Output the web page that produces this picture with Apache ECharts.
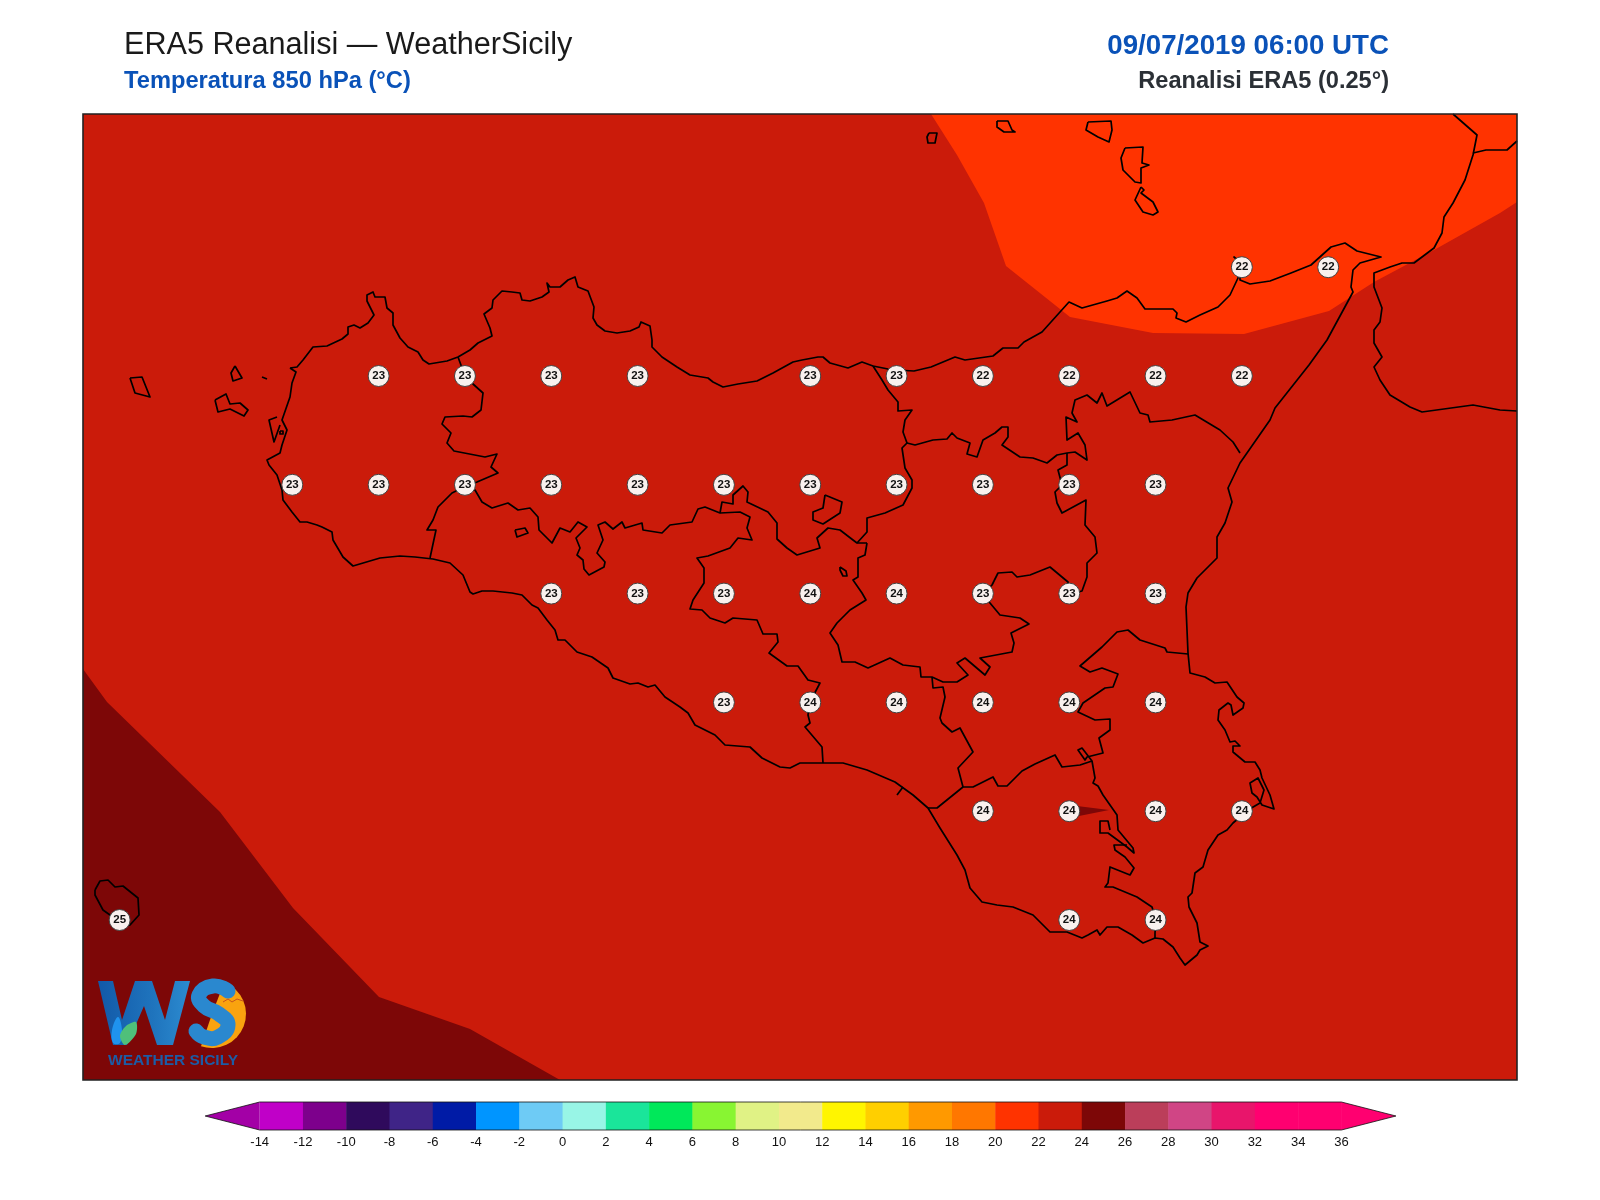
<!DOCTYPE html>
<html lang="it">
<head>
	<meta charset="UTF-8">
	<title>ERA5 Reanalisi</title>
	<script src="https://cdn.jsdelivr.net/npm/echarts@6/dist/echarts.min.js"></script>
	<style>
		html, body{
			width: 100%;
			height: 100%;
			padding: 0;
			margin: 0;
			background-color: #fff;
		}
		#main{
			width: 1600px;
			height: 1200px;
		}
	</style>
</head>
<body>
	<div id="main"></div>
</body>
<script>
	// temperature read at the 0.25 degree grid points
	let lat3825 = [[15.25, 22], [15.5, 22]];
	let lat3800 = [[12.75, 23], [13, 23], [13.25, 23], [13.5, 23], [14, 23], [14.25, 23], [14.5, 22], [14.75, 22], [15, 22], [15.25, 22]];
	let lat3775 = [[12.5, 23], [12.75, 23], [13, 23], [13.25, 23], [13.5, 23], [13.75, 23], [14, 23], [14.25, 23], [14.5, 23], [14.75, 23], [15, 23]];
	let lat3750 = [[13.25, 23], [13.5, 23], [13.75, 23], [14, 24], [14.25, 24], [14.5, 23], [14.75, 23], [15, 23]];
	let lat3725 = [[13.75, 23], [14, 24], [14.25, 24], [14.5, 24], [14.75, 24], [15, 24]];
	let lat3700 = [[14.5, 24], [14.75, 24], [15, 24], [15.25, 24]];
	let lat3675 = [[12, 25], [14.75, 24], [15, 24]];

	// colour scale
	let levels = [-14, -12, -10, -8, -6, -4, -2, 0, 2, 4, 6, 8, 10, 12, 14, 16, 18, 20, 22, 24, 26, 28, 30, 32, 34, 36];
	let levelColors = ['#c000c8', '#7d008c', '#2f0a5c', '#3f2487', '#001ba6', '#0095ff', '#6ecbf5', '#98f5e6', '#1ae59a', '#00e85a', '#88f532', '#e0f285', '#f2ea8c', '#fff500', '#ffcf00', '#ff9900', '#ff7700', '#ff3300', '#cb1b0a', '#7d0707', '#bb3e5a', '#d04585', '#e8156b', '#ff0070', '#ff0070'];
	let lowColor = '#a300a6';
	let highColor = '#ff0070';

	let sicilyCoast = [290,368, 297,367, 303,360, 313,347, 327,346, 342,339, 348,334, 348,327, 354,325, 360,328, 368,323, 374,315, 367,301, 367,295, 373,292, 375,297, 385,297, 387,308, 393,313, 393,325, 400,338, 408,347, 418,352, 423,360, 429,364, 447,361, 458,357, 470,350, 478,343, 492,336, 490,328, 484,314, 492,308, 493,300, 502,291, 512,292, 520,293, 522,300, 530,301, 542,297, 549,292, 547,283, 550,287, 560,287, 568,280, 575,277, 578,287, 588,291, 594,307, 593,318, 597,325, 605,331, 617,333, 630,331, 639,327, 641,322, 650,326, 652,340, 652,347, 662,357, 677,367, 690,375, 708,378, 713,382, 723,387, 738,384, 757,381, 773,373, 793,362, 802,360, 818,357, 823,357, 830,363, 848,368, 862,362, 873,366, 888,369, 896,370, 914,371, 931,367, 955,357, 965,360, 993,356, 1003,348, 1018,348, 1024,342, 1042,332, 1069,302, 1082,308, 1107,301, 1117,298, 1127,291, 1137,298, 1145,309, 1173,309, 1177,313, 1176,318, 1186,322, 1200,315, 1218,307, 1230,295, 1238,278, 1240,262, 1234,257, 1240,262, 1240,280, 1250,284, 1270,281, 1291,273, 1311,265, 1331,247, 1345,243, 1357,251, 1381,257, 1360,263, 1353,270, 1351,287, 1353,292, 1327,340, 1309,365, 1275,408, 1270,420, 1240,463, 1228,488, 1232,502, 1225,523, 1217,537, 1217,558, 1197,578, 1188,593, 1186,607, 1188,653, 1190,673, 1205,677, 1215,683, 1227,682, 1237,697, 1244,703, 1243,708, 1233,715, 1231,705, 1228,703, 1219,710, 1218,720, 1225,730, 1230,742, 1235,741, 1240,746, 1233,746, 1233,752, 1245,762, 1255,762, 1260,770, 1262,778, 1270,795, 1274,809, 1262,805, 1257,797, 1252,793, 1250,783, 1258,778, 1264,790, 1260,803, 1248,810, 1233,823, 1227,830, 1218,835, 1208,850, 1203,867, 1195,873, 1192,893, 1188,897, 1189,907, 1197,923, 1200,942, 1208,946, 1200,950, 1197,955, 1185,965, 1180,958, 1173,947, 1163,939, 1155,938, 1143,943, 1132,935, 1118,927, 1107,927, 1100,935, 1097,930, 1088,935, 1082,938, 1067,932, 1050,932, 1033,915, 1013,907, 997,905, 982,902, 970,888, 965,870, 957,855, 940,828, 928,808, 913,795, 895,782, 867,770, 843,763, 823,763, 800,763, 790,768, 780,767, 762,758, 750,747, 725,745, 715,735, 695,725, 688,713, 680,707, 665,697, 655,685, 648,687, 638,683, 630,684, 613,678, 608,668, 592,657, 577,652, 565,640, 558,640, 555,630, 547,620, 538,608, 532,605, 522,595, 512,593, 493,591, 482,591, 473,594, 470,592, 463,575, 450,563, 433,559, 415,557, 400,556, 380,558, 353,566, 343,557, 333,540, 332,532, 322,527, 317,525, 307,522, 300,522, 292,512, 283,500, 282,490, 277,475, 269,465, 267,460, 280,453, 282,445, 287,430, 282,420, 290,397, 292,383, 296,372, 290,368];
	let trapaniLine = [458,357, 465,376, 473,384, 483,393, 481,410, 472,417, 463,416, 445,417, 442,424, 451,433, 447,443, 454,451, 485,457, 497,454, 491,467, 498,473, 477,482, 464,487, 452,493, 438,507, 433,520, 427,530, 436,530, 430,558];
	let agrigentoLine = [464,485, 475,490, 482,502, 492,508, 508,503, 518,510, 530,508, 538,517, 539,530, 552,543, 560,528, 570,532, 578,522, 587,527, 576,538, 580,548, 577,555, 583,560, 584,569, 589,575, 604,567, 605,562, 597,553, 603,540, 598,525, 605,522, 613,529, 622,522, 625,528, 642,523, 643,530, 662,533, 670,525, 692,522, 698,509, 705,507, 720,513, 740,512, 750,517, 747,528, 752,540, 738,538, 730,548, 708,556, 697,558, 704,568, 704,583, 693,600, 690,609, 702,610, 710,618, 725,623, 733,618, 757,620, 763,634, 777,634, 778,642, 769,653, 787,666, 798,666, 808,680, 820,683, 810,702, 808,715, 810,723, 805,727, 822,747, 823,763];
	let palermoLine = [720,513, 722,502, 733,504, 733,495, 743,486, 748,492, 747,502, 768,512, 777,523, 777,539, 787,548, 797,555, 820,548, 817,538, 828,528, 840,530, 853,540, 857,543, 867,543];
	let ennaWestLine = [873,366, 882,380, 888,390, 898,402, 898,411, 912,410, 905,420, 903,432, 907,443, 902,448, 905,468, 912,480, 912,488, 903,505, 885,513, 867,518, 867,532, 857,543];
	let ennaSouthLine = [867,543, 865,555, 858,558, 858,577, 853,580, 862,593, 866,600, 850,610, 837,623, 830,633, 838,645, 842,662, 855,662, 868,668, 890,658, 903,665, 920,667, 921,677, 932,677, 943,682, 957,682, 968,675, 957,663, 965,658, 985,675, 990,667, 980,658, 1012,652, 1014,643, 1011,633, 1029,624, 1020,618, 1000,615, 990,603, 983,594, 992,585, 998,573, 1012,572, 1017,577, 1030,575, 1050,567, 1068,582, 1070,594, 1082,591, 1087,577, 1087,563, 1097,553, 1095,537, 1085,525, 1086,500, 1062,513, 1057,503, 1055,492, 1062,485, 1058,470, 1067,465, 1067,453];
	let ennaNorthLine = [907,443, 915,445, 933,440, 947,439, 952,433, 957,438, 970,443, 967,454, 977,457, 983,440, 995,433, 1002,427, 1008,427, 1008,437, 1002,445, 1020,457, 1033,458, 1047,463, 1057,455, 1067,453, 1075,452, 1087,460, 1085,445, 1078,433, 1067,440, 1066,417, 1077,422, 1072,413, 1075,400, 1087,395, 1097,403, 1102,393, 1107,406, 1130,392, 1140,413, 1148,415, 1150,422, 1172,420, 1195,415, 1220,430, 1233,442, 1240,453];
	let cataniaLine = [1188,654, 1167,652, 1165,648, 1140,640, 1128,630, 1117,632, 1102,647, 1080,666, 1090,672, 1102,668, 1118,674, 1113,687, 1105,688, 1083,703, 1078,712, 1095,720, 1110,719, 1110,730, 1099,738, 1103,753, 1087,757, 1085,760, 1078,750, 1082,748, 1092,761, 1095,778, 1093,783, 1098,786, 1103,795, 1117,815, 1118,830, 1133,848, 1134,853, 1127,847, 1108,833, 1100,833, 1100,821, 1108,821, 1110,830];
	let siracusaLine = [1127,845, 1114,845, 1115,850, 1125,857, 1134,868, 1130,875, 1110,867, 1108,883, 1105,887, 1113,887, 1137,897, 1152,907, 1156,920, 1155,933, 1155,938];
	let ragusaLine = [928,808, 937,808, 963,787, 973,787, 993,777, 998,786, 1007,786, 1022,771, 1035,764, 1055,755, 1062,767, 1080,765, 1092,761];
	let caltaLine = [963,787, 958,768, 973,752, 960,728, 952,732, 942,723, 940,718, 945,697, 943,687, 933,688, 932,677];
	let gelaSpur = [903,787, 897,795];
	let madonieLoop = [825,495, 842,502, 840,513, 823,524, 813,520, 813,512, 823,508, 825,495];
	let pergusaLoop = [840,567, 846,571, 847,576, 843,576, 840,570, 840,567];
	let enclaveLoop = [515,530, 525,528, 528,533, 517,537, 515,530];
	let salineLine = [277,417, 269,420, 274,442, 280,425];
	let salineLoop = [280,431, 283,431, 283,434, 280,434, 280,431];

	let calabriaCoast = [1453,114, 1477,135, 1473,155, 1465,180, 1453,203, 1444,217, 1442,233, 1434,248, 1414,263, 1402,263, 1390,267, 1374,273, 1374,287, 1382,308, 1380,322, 1374,330, 1374,343, 1382,357, 1374,367, 1380,380, 1390,395, 1410,407, 1422,412, 1473,405, 1500,410, 1517,411];
	let calabriaBorder = [1473,153, 1486,150, 1507,150, 1517,141];

	let alicudi = [929,133, 937,133, 935,143, 928,143, 927,137, 929,133];
	let filicudi = [997,121, 1008,121, 1012,130, 1015,132, 1004,132, 997,127, 997,121];
	let salina = [1088,122, 1111,121, 1112,130, 1109,142, 1098,137, 1086,130, 1088,122];
	let lipari = [1125,148, 1143,147, 1142,163, 1149,165, 1141,168, 1141,183, 1135,182, 1123,170, 1121,158, 1125,148];
	let vulcano = [1141,187, 1144,190, 1141,193, 1153,202, 1158,212, 1153,215, 1143,212, 1135,200, 1141,187];
	let marettimo = [130,378, 142,377, 150,397, 135,393, 130,378];
	let levanzo = [235,366, 242,378, 233,381, 231,373, 235,366];
	let favignana = [215,400, 226,394, 230,404, 240,403, 248,410, 244,416, 230,409, 218,412, 215,400];
	let formiche = [262,377, 267,379];
	let linosa = [95,890, 100,881, 108,880, 115,887, 123,886, 138,898, 139,915, 130,925, 118,927, 110,915, 103,910, 95,895, 95,890];

	let outlines = [sicilyCoast, trapaniLine, agrigentoLine, palermoLine, ennaWestLine, ennaSouthLine, ennaNorthLine, cataniaLine, siracusaLine, ragusaLine, caltaLine, gelaSpur, madonieLoop, pergusaLoop, enclaveLoop, salineLine, salineLoop, calabriaCoast, calabriaBorder, alicudi, filicudi, salina, lipari, vulcano, marettimo, levanzo, favignana, formiche, linosa];

	// filled contour bands, digitised the same way
	let band20to22 = [931,114, 957,155, 984,203, 1006,266, 1070,317, 1153,333, 1244,334, 1329,311, 1374,282, 1434,250, 1500,213, 1517,202, 1517,114];
	let band24to26 = [83,669, 107,702, 220,812, 293,908, 379,997, 470,1029, 560,1080, 83,1080];
	let band24sliver = [1069,805, 1109,810, 1069,818];
	let fills = [[band20to22, levelColors[17]], [band24to26, levelColors[19]], [band24sliver, levelColors[19]]];

	// plate to lon/lat: 0.25 degrees = 86.33 x 108.8 units
	function toLon(u){
		return 12.5 + (u - 292.3) / 345.3;
	}
	function toLat(v){
		return 38 - (v - 376) / 435.2;
	}
	function toGeo(flat){
		let out = [];
		for(let i = 0; i < flat.length; i += 2){
			out.push([toLon(flat[i]), toLat(flat[i + 1])]);
		}
		return out;
	}

	let lonMin = toLon(83), lonMax = toLon(1517);
	let latMin = toLat(1080), latMax = toLat(114);

	function withLat(row, lat){
		return row.map(o => [o[0], lat, o[1]]);
	}
	let points = [].concat(
		withLat(lat3825, 38.25), withLat(lat3800, 38), withLat(lat3775, 37.75),
		withLat(lat3750, 37.5), withLat(lat3725, 37.25), withLat(lat3700, 37), withLat(lat3675, 36.75)
	);

	let series = [];

	// contour fills
	series.push({
		type: 'custom',
		xAxisIndex: 0,
		yAxisIndex: 0,
		silent: true,
		clip: true,
		z: 1,
		data: fills.map((f, i) => [i]),
		encode: {x: [], y: []},
		renderItem: function(params, api){
			let f = fills[params.dataIndex];
			return {
				type: 'polygon',
				shape: {points: toGeo(f[0]).map(p => api.coord(p))},
				style: {fill: f[1]}
			};
		}
	});

	// coast and province lines
	outlines.forEach(o => {
		series.push({
			type: 'line',
			xAxisIndex: 0,
			yAxisIndex: 0,
			silent: true,
			showSymbol: false,
			z: 2,
			lineStyle: {color: '#000', width: 1.7, join: 'round'},
			data: toGeo(o)
		});
	});

	// grid point values
	series.push({
		type: 'scatter',
		xAxisIndex: 0,
		yAxisIndex: 0,
		silent: true,
		z: 5,
		symbol: 'circle',
		symbolSize: 21,
		itemStyle: {color: '#f9f1ee', borderColor: '#444', borderWidth: 1, opacity: 1},
		label: {
			show: true,
			position: 'inside',
			color: '#111',
			fontSize: 11.5,
			fontWeight: 'bold',
			fontFamily: 'Liberation Sans',
			textBorderWidth: 0,
			formatter: p => p.value[2]
		},
		data: points
	});

	// frame of the map
	series.push({
		type: 'custom',
		xAxisIndex: 0,
		yAxisIndex: 0,
		silent: true,
		clip: false,
		z: 6,
		data: [[0]],
		encode: {x: [], y: []},
		renderItem: function(params, api){
			let a = api.coord([lonMin, latMax]);
			let b = api.coord([lonMax, latMin]);
			return {
				type: 'rect',
				shape: {x: a[0], y: a[1], width: b[0] - a[0], height: b[1] - a[1]},
				style: {fill: 'none', stroke: '#222', lineWidth: 1.6}
			};
		}
	});

	// colour bar steps
	series.push({
		type: 'custom',
		xAxisIndex: 1,
		yAxisIndex: 1,
		silent: true,
		clip: false,
		z: 3,
		data: levelColors.map((c, i) => [levels[i], levels[i + 1]]),
		encode: {x: [0, 1], y: []},
		renderItem: function(params, api){
			let a = api.coord([api.value(0), 1]);
			let b = api.coord([api.value(1), 0]);
			return {
				type: 'rect',
				shape: {x: a[0], y: a[1], width: b[0] - a[0] + 0.5, height: b[1] - a[1]},
				style: {fill: levelColors[params.dataIndex]}
			};
		}
	});

	// colour bar extensions and outline
	let first = levels[0], last = levels[levels.length - 1], tip = 2.52;
	series.push({
		type: 'custom',
		xAxisIndex: 1,
		yAxisIndex: 1,
		silent: true,
		clip: false,
		z: 4,
		data: [[0], [1], [2]],
		encode: {x: [], y: []},
		renderItem: function(params, api){
			let i = params.dataIndex;
			if(i == 0){
				return {
					type: 'polygon',
					shape: {points: [[first, 1], [first - tip, 0.5], [first, 0]].map(p => api.coord(p))},
					style: {fill: lowColor}
				};
			}
			if(i == 1){
				return {
					type: 'polygon',
					shape: {points: [[last, 1], [last + tip, 0.5], [last, 0]].map(p => api.coord(p))},
					style: {fill: highColor}
				};
			}
			return {
				type: 'polygon',
				shape: {points: [[first, 1], [last, 1], [last + tip, 0.5], [last, 0], [first, 0], [first - tip, 0.5]].map(p => api.coord(p))},
				style: {fill: 'none', stroke: '#111', lineWidth: 0.8}
			};
		}
	});

	let logoBlue = new echarts.graphic.LinearGradient(0, 0, 1, 0, [
		{offset: 0, color: '#1259a8'},
		{offset: 0.6, color: '#1f74bd'},
		{offset: 1, color: '#2c8bd0'}
	]);

	let myChart = echarts.init(document.getElementById('main'));
	myChart.setOption({
		animation: false,
		backgroundColor: '#fff',
		title: [
			{
				text: 'ERA5 Reanalisi — WeatherSicily',
				left: 119,
				top: 25,
				textStyle: {fontFamily: 'Liberation Sans', fontSize: 30.6, fontWeight: 'normal', color: '#1a1a1a'}
			},
			{
				text: 'Temperatura 850 hPa (°C)',
				left: 119,
				top: 64,
				textStyle: {fontFamily: 'Liberation Sans', fontSize: 23.7, fontWeight: 'bold', color: '#0a52b8'}
			},
			{
				text: '09/07/2019 06:00 UTC',
				right: 206,
				top: 27,
				textStyle: {fontFamily: 'Liberation Sans', fontSize: 27.7, fontWeight: 'bold', color: '#0a52b8'}
			},
			{
				text: 'Reanalisi ERA5 (0.25°)',
				right: 206,
				top: 64,
				textStyle: {fontFamily: 'Liberation Sans', fontSize: 23.6, fontWeight: 'bold', color: '#2b3036'}
			}
		],
		grid: [
			{left: 83, top: 114, width: 1434, height: 966, show: true, backgroundColor: levelColors[18], borderWidth: 0},
			{left: 259.7, top: 1102, width: 1081.7, height: 28, show: false}
		],
		xAxis: [
			{type: 'value', gridIndex: 0, min: lonMin, max: lonMax, show: false},
			{
				type: 'value',
				gridIndex: 1,
				min: first,
				max: last,
				interval: 2,
				axisLine: {show: false},
				axisTick: {show: false},
				splitLine: {show: false},
				axisLabel: {
					show: true,
					margin: 6,
					fontFamily: 'Liberation Sans',
					fontSize: 13,
					color: '#111'
				}
			}
		],
		yAxis: [
			{type: 'value', gridIndex: 0, min: latMin, max: latMax, show: false},
			{type: 'value', gridIndex: 1, min: 0, max: 1, show: false}
		],
		series: series,
		graphic: [
			// logo
			{
				type: 'polygon',
				z: 20,
				shape: {points: [[98, 981], [113, 981], [122, 1020], [135, 981], [152, 981], [165, 1020], [175, 981], [190, 981], [173, 1045], [157, 1045], [144, 1006], [127, 1045], [113, 1045]]},
				style: {fill: logoBlue}
			},
			{
				type: 'sector',
				z: 20,
				shape: {cx: 212, cy: 1014, r: 34, startAngle: -1.2, endAngle: 1.9},
				style: {fill: '#f9a30f'}
			},
			{
				type: 'polyline',
				z: 21,
				shape: {
					points: [[228, 991], [213, 986], [199, 995], [204, 1006], [219, 1014], [228, 1025], [218, 1037], [204, 1037], [196, 1031]],
					smooth: 0.5
				},
				style: {fill: 'none', stroke: '#2a88cf', lineWidth: 15, lineCap: 'round'}
			},
			{
				type: 'polyline',
				z: 22,
				shape: {points: [[223, 1002], [228, 999], [232, 1002], [237, 999], [243, 1001]]},
				style: {fill: 'none', stroke: '#c8541c', lineWidth: 1}
			},
			{
				type: 'polygon',
				z: 22,
				shape: {points: [[118, 1017], [122, 1030], [120, 1043], [113, 1043], [112, 1030]], smooth: 0.4},
				style: {fill: '#1f93ee'}
			},
			{
				type: 'polygon',
				z: 23,
				shape: {points: [[136, 1022], [136, 1034], [125, 1045], [120, 1036], [126, 1026]], smooth: 0.3},
				style: {fill: '#4fc07a'}
			},
			{
				type: 'text',
				z: 20,
				x: 108,
				y: 1053,
				style: {text: 'WEATHER SICILY', font: 'bold 15.5px "Liberation Sans"', fill: '#1c5ca6'}
			}
		]
	});
</script>
</html>
